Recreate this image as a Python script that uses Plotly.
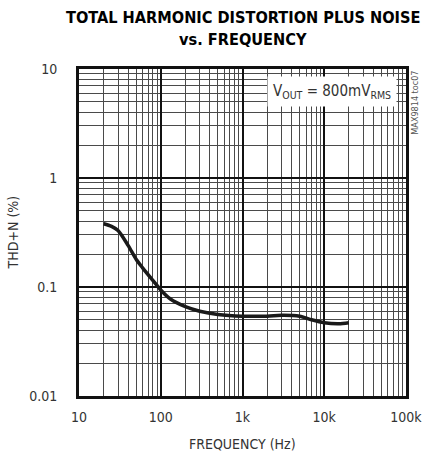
import plotly.graph_objects as go

# THD+N vs frequency, VOUT = 800mVRMS
freq_hz = [20, 25, 30, 40, 50, 60, 80, 100, 130, 200, 300, 500, 1000,
           2000, 3000, 5000, 7000, 10000, 15000, 20000]
thdn_pct = [0.38, 0.36, 0.33, 0.24, 0.18, 0.15, 0.115, 0.094, 0.078, 0.066,
            0.060, 0.056, 0.054, 0.054, 0.055, 0.054, 0.050, 0.047, 0.046, 0.047]

x_tickvals = [10, 100, 1000, 10000, 100000]
x_ticktext = ["10", "100", "1k", "10k", "100k"]
y_tickvals = [0.01, 0.1, 1, 10]
y_ticktext = ["0.01", "0.1", "1", "10"]
title_lines = ["TOTAL HARMONIC DISTORTION PLUS NOISE", "vs. FREQUENCY"]

NARROW = "DejaVu Sans Condensed, Liberation Sans Narrow, sans-serif"
TEXT = "#333333"

fig = go.Figure()
fig.add_trace(go.Scatter(
    x=freq_hz, y=thdn_pct, mode="lines",
    line=dict(color="#1a1a1a", width=3.5, shape="spline", smoothing=0.8),
    showlegend=False, hoverinfo="skip",
))

axis_common = dict(
    type="log", automargin=False,
    showline=True, linecolor="#111111", linewidth=3, mirror=True,
    showgrid=True, gridcolor="#111111", gridwidth=1.5,
    ticks="", zeroline=False,
    tickfont=dict(family=NARROW, size=14, color=TEXT),
    minor=dict(dtick="D1", showgrid=True, gridcolor="#4a4a4a", gridwidth=1, ticks=""),
)

fig.update_xaxes(
    **axis_common,
    range=[1, 5],
    tickmode="array", tickvals=x_tickvals, ticktext=x_ticktext,
    ticklabelstandoff=6,
)
fig.update_yaxes(
    **axis_common,
    range=[-2, 1],
    tickmode="array", tickvals=y_tickvals, ticktext=y_ticktext,
    ticklabelstandoff=16,
)

# axis titles
fig.add_annotation(
    xref="paper", yref="paper", x=0.5, y=-0.147, xanchor="center", yanchor="middle",
    text="FREQUENCY (Hz)", showarrow=False,
    font=dict(family=NARROW, size=14, color=TEXT),
)
fig.add_annotation(
    xref="paper", yref="paper", x=-0.202, y=0.5, xanchor="center", yanchor="middle",
    text="THD+N (%)", textangle=-90, showarrow=False,
    font=dict(family=NARROW, size=14, color=TEXT),
)

# chart title, one annotation per line
for line, ypos in zip(title_lines, [1.159, 1.089]):
    fig.add_annotation(
        xref="paper", yref="paper", x=0.5, y=ypos, xanchor="center", yanchor="middle",
        text=f"<b>{line}</b>", showarrow=False,
        font=dict(family=NARROW, size=16.2, color="#000000"),
    )

fig.add_annotation(
    xref="paper", yref="paper", x=0.774, y=0.93, xanchor="center", yanchor="middle",
    text="V<sub>OUT</sub> = 800mV<sub>RMS</sub>",
    showarrow=False, bgcolor="white", borderpad=5,
    font=dict(family=NARROW, size=15, color=TEXT),
)
fig.add_annotation(
    xref="paper", yref="paper", x=1.005, y=1.0, xanchor="left", yanchor="top",
    text="MAX9814 toc07", textangle=-90, showarrow=False,
    font=dict(family=NARROW, size=9, color="#555555"),
)

fig.update_layout(
    width=426, height=452,
    margin=dict(l=79, r=20, t=69, b=56, autoexpand=False),
    paper_bgcolor="white", plot_bgcolor="white",
)

fig.write_html("out.html")
